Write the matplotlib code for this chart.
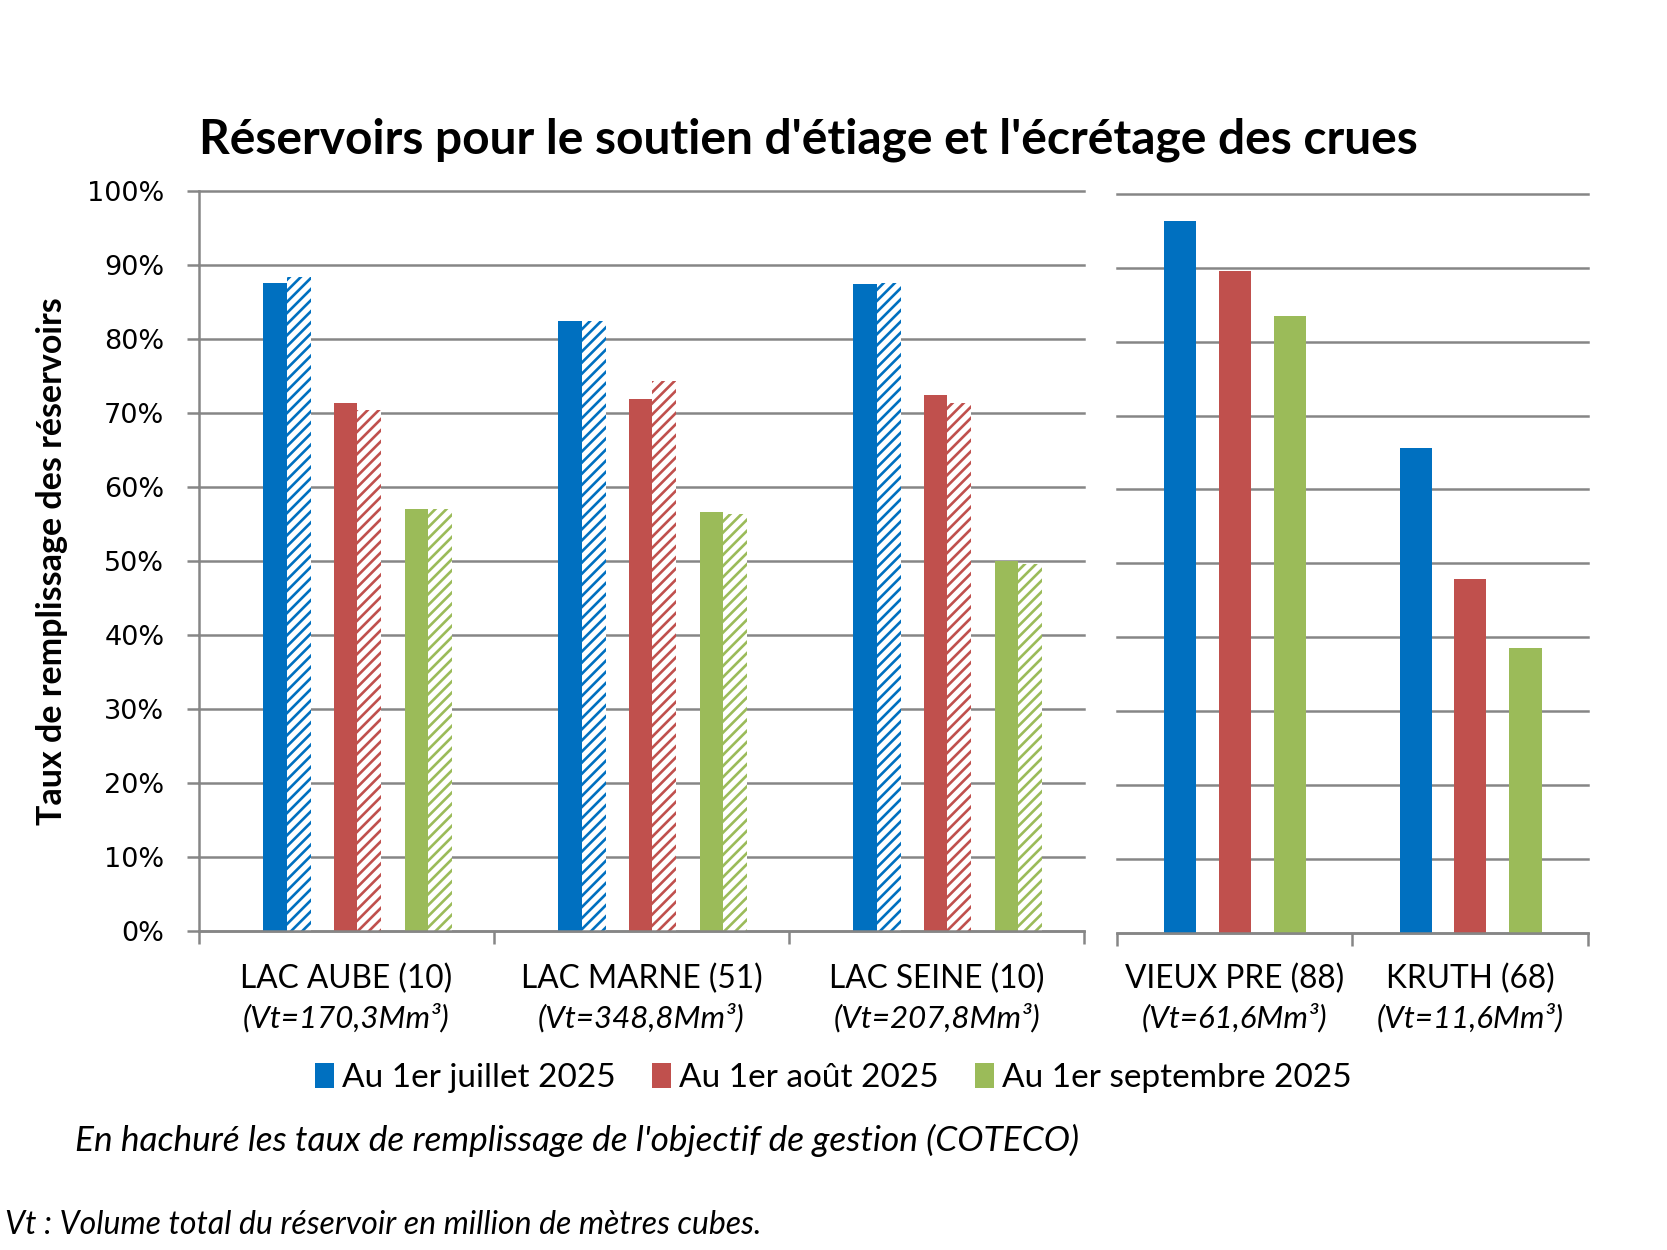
import numpy as np
import matplotlib
matplotlib.use('Agg')
import matplotlib.pyplot as plt
from matplotlib.patches import Patch
from matplotlib import transforms

# donnees (taux de remplissage en %)
lacs = ['LAC AUBE (10)', 'LAC MARNE (51)', 'LAC SEINE (10)']
lacs_vol = ['(Vt=170,3Mm³)', '(Vt=348,8Mm³)', '(Vt=207,8Mm³)']
juillet = [87.6, 82.4, 87.5]
juillet_obj = [88.4, 82.4, 87.6]
aout = [71.4, 71.9, 72.5]
aout_obj = [70.5, 74.4, 71.4]
sept = [57.1, 56.7, 50.0]
sept_obj = [57.0, 56.4, 49.6]

autres = ['VIEUX PRE (88)', 'KRUTH (68)']
autres_vol = ['(Vt=61,6Mm³)', '(Vt=11,6Mm³)']
juillet_r = [96.3, 65.6]
aout_r = [89.5, 47.9]
sept_r = [83.4, 38.5]

legende = ['Au 1er juillet 2025', 'Au 1er août 2025', 'Au 1er septembre 2025']
y_ticks = np.arange(0, 101, 10)

bleu, rouge, vert = '#0070C0', '#C0504D', '#9BBB59'
gris = '#868686'
police = 'Lato'

plt.rcParams['hatch.linewidth'] = 1.9

fig = plt.figure(figsize=(16.67, 12.5), dpi=100)
ax1 = fig.add_axes([0.1194, 0.2550, 0.5309, 0.5920])
ax2 = fig.add_axes([0.6699, 0.2534, 0.2825, 0.5917])


def habillage(ax, n):
    ax.set_xlim(0, n)
    ax.set_ylim(0, 100)
    ax.set_axisbelow(True)
    ax.set_yticks(y_ticks)
    ax.yaxis.grid(True, color=gris, linewidth=1.8)
    for ligne in ax.get_ygridlines():
        ligne.set_clip_on(False)
    ax.set_xticks(np.arange(0, n + 1))
    ax.set_xticklabels([])
    ax.tick_params(axis='x', length=9, width=1.8, color=gris, direction='out')
    for s in ['top', 'right']:
        ax.spines[s].set_visible(False)
    ax.spines['bottom'].set_color(gris)
    ax.spines['bottom'].set_linewidth(1.8)


# panneau gauche : lacs-reservoirs Seine
habillage(ax1, 3)
x = np.arange(3)
w = 0.08
dec = [0.218, 0.457, 0.697]
for d, val, obj, c in zip(dec, [juillet, aout, sept], [juillet_obj, aout_obj, sept_obj], [bleu, rouge, vert]):
    ax1.bar(x + d, val, w, align='edge', color=c, linewidth=0)
    ax1.bar(x + d + w, obj, w, align='edge', facecolor='white', edgecolor=c, linewidth=0, hatch='///')
ax1.spines['left'].set_color(gris)
ax1.spines['left'].set_linewidth(1.8)
ax1.tick_params(axis='y', length=9, width=1.8, color=gris, labelsize=19.5, pad=16)
ax1.set_yticklabels(['{}%'.format(v) for v in y_ticks], family='DejaVu Sans')

# panneau droit : Vieux Pre et Kruth
habillage(ax2, 2)
x2 = np.arange(2)
w2 = 0.137
dec2 = [0.201, 0.433, 0.668]
for d, val, c in zip(dec2, [juillet_r, aout_r, sept_r], [bleu, rouge, vert]):
    ax2.bar(x2 + d, val, w2, align='edge', color=c, linewidth=0)
ax2.spines['left'].set_visible(False)
ax2.tick_params(axis='y', length=0, labelleft=False)

# libelles des categories
for ax, noms, vols in [(ax1, lacs, lacs_vol), (ax2, autres, autres_vol)]:
    tr = transforms.blended_transform_factory(ax.transData, fig.transFigure)
    for i, (n, v) in enumerate(zip(noms, vols)):
        ax.text(i + 0.5, 0.2168, n, transform=tr, ha='center', va='center',
                fontsize=22.8, family=police)
        ax.text(i + 0.5, 0.1856, v, transform=tr, ha='center', va='center',
                fontsize=22.5, family=police, style='italic')

fig.text(0.485, 0.888, "Réservoirs pour le soutien d'étiage et l'écrétage des crues",
         ha='center', va='center', fontsize=34.5, fontweight='bold', family=police)
fig.text(0.031, 0.551, 'Taux de remplissage des réservoirs', rotation=90,
         ha='center', va='center', fontsize=24.5, fontweight='bold', family=police)

poignees = [Patch(facecolor=c) for c in [bleu, rouge, vert]]
fig.legend(poignees, legende, loc='center', bbox_to_anchor=(0.5, 0.1376), ncol=3,
           frameon=False, handlelength=0.55, handleheight=0.75, handletextpad=0.25,
           columnspacing=1.1, prop={'family': police, 'size': 24})

fig.text(0.045, 0.088, "En hachuré les taux de remplissage de l'objectif de gestion (COTECO)",
         ha='left', va='center', fontsize=25.4, family=police, style='italic')
fig.text(0.003, 0.020, 'Vt : Volume total du réservoir en million de mètres cubes.',
         ha='left', va='center', fontsize=23, family=police, style='italic')

fig.savefig('out.png', dpi=100, facecolor='white')
